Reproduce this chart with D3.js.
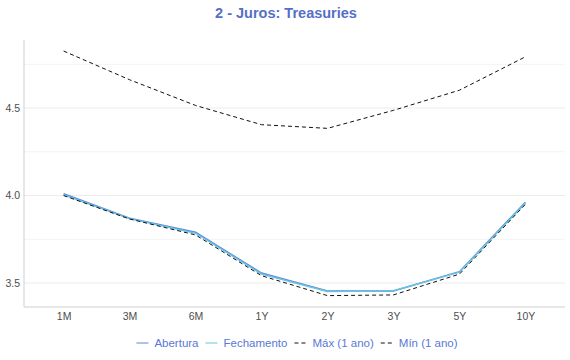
<!DOCTYPE html>
<html><head><meta charset="utf-8">
<script src="https://cdn.jsdelivr.net/npm/d3@7"></script>
<style>body{margin:0;background:#fff}svg{display:block}</style>
</head><body>
<svg id="c" width="570" height="360"></svg>
<script>
const categories = ["1M","3M","6M","1Y","2Y","3Y","5Y","10Y"];
const abertura   = [4.010, 3.870, 3.790, 3.557, 3.455, 3.455, 3.565, 3.962];
const fechamento = [4.005, 3.868, 3.785, 3.552, 3.452, 3.456, 3.562, 3.957];
const maxAno     = [4.826, 4.662, 4.515, 4.405, 4.384, 4.487, 4.602, 4.793];
const minAno     = [4.000, 3.866, 3.775, 3.542, 3.428, 3.432, 3.551, 3.950];
const yTicks = [3.5, 4.0, 4.5];
const yMinor = [3.75, 4.25, 4.75];

const series = [
  {name:"Abertura", values:abertura, color:"#6a7fd8", width:1.5, dash:null},
  {name:"Fechamento", values:fechamento, color:"#62c6e2", width:1.5, dash:null},
  {name:"Máx (1 ano)", values:maxAno, color:"#111", width:1, dash:"4,3"},
  {name:"Mín (1 ano)", values:minAno, color:"#111", width:1, dash:"4,3"}
];

const svg = d3.select("#c");
const font = "'Liberation Sans', Arial, sans-serif";
const L = 24, R = 565, T = 40, B = 307;

const x = d3.scalePoint().domain(categories).range([L, R]).padding(0.6);
const y = d3.scaleLinear().domain([3.363, 4.889]).range([B, T]);

// grid
svg.append("g").selectAll("line").data(yMinor.concat(yTicks)).join("line")
  .attr("x1", L).attr("x2", R)
  .attr("y1", d => y(d)).attr("y2", d => y(d))
  .attr("stroke", d => yTicks.includes(d) ? "#ebebeb" : "#f3f3f3").attr("stroke-width", 1);

// axes
const yAxis = svg.append("g").attr("transform", `translate(${L},0)`)
  .call(d3.axisLeft(y).tickValues(yTicks).tickFormat(d3.format(".1f")).tickSize(0).tickPadding(4));
const xAxis = svg.append("g").attr("transform", `translate(0,${B})`)
  .call(d3.axisBottom(x).tickSize(0).tickPadding(6));
[yAxis, xAxis].forEach(a => {
  a.select(".domain").attr("stroke", "#cfcfcf");
  a.selectAll("text").attr("fill", "#4d4d4d").style("font-family", font).style("font-size", "10.5px");
});
yAxis.select(".domain").attr("d", `M0,${T}V${B}`);
xAxis.select(".domain").attr("d", `M${L},0H${R}`);

// lines
const line = d3.line().x((d,i) => x(categories[i])).y(d => y(d));
svg.append("g").selectAll("path").data(series).join("path")
  .attr("d", s => line(s.values))
  .attr("fill", "none")
  .attr("stroke", s => s.color)
  .attr("stroke-width", s => s.width)
  .attr("stroke-dasharray", s => s.dash);

// title
svg.append("text").attr("x", 286).attr("y", 18).attr("text-anchor", "middle")
  .style("font-family", font).style("font-size", "14.5px").style("font-weight", "bold")
  .attr("fill", "#5470c6").text("2 - Juros: Treasuries");

// legend
const lg = svg.append("g");
let cx = 0;
series.forEach(s => {
  const g = lg.append("g");
  g.append("line").attr("x1", 0).attr("x2", 12).attr("y1", 0).attr("y2", 0)
    .attr("stroke", s.color).attr("stroke-width", 1).attr("stroke-dasharray", s.dash);
  const t = g.append("text").attr("x", 18).attr("y", 4)
    .style("font-family", font).style("font-size", "11.5px").attr("fill", "#5a78d6").text(s.name);
  g.attr("transform", `translate(${cx},0)`);
  cx += 18 + t.node().getComputedTextLength() + 7;
});
const total = cx - 7;
lg.attr("transform", `translate(${297 - total/2},343)`);
</script>
</body></html>
